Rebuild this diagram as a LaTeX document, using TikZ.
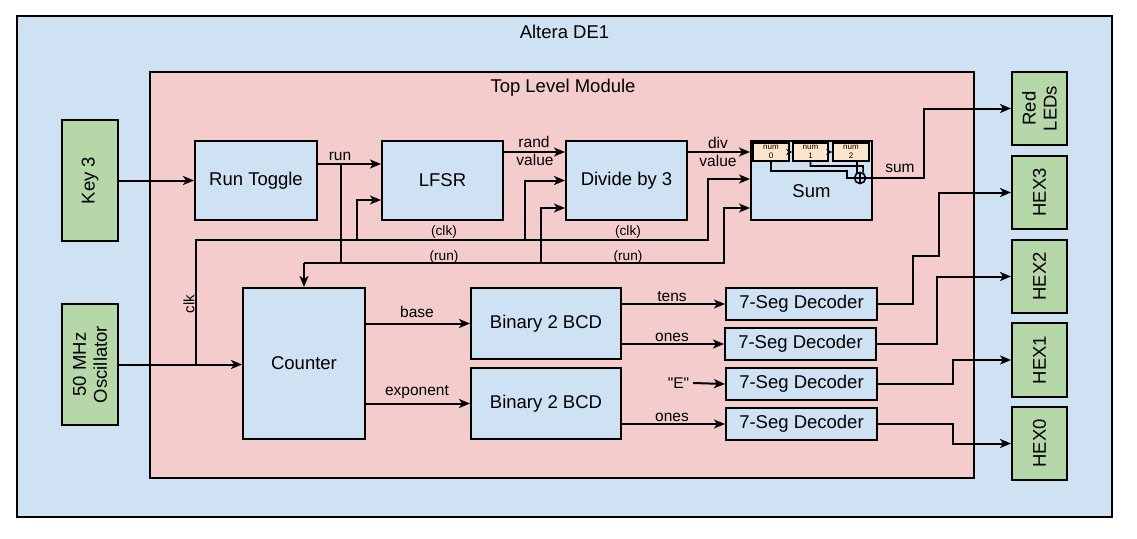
\documentclass[tikz,border=0pt]{standalone}
\usepackage{fontspec}
\setmainfont{Liberation Sans}
\newfontfamily\plainsans{Liberation Sans}
\usetikzlibrary{arrows.meta}
\definecolor{deblue}{HTML}{CFE2F3}
\definecolor{tlpink}{HTML}{F4CCCC}
\definecolor{grn}{HTML}{B6D7A8}
\definecolor{org}{HTML}{FCE5CD}
\begin{document}
\begin{tikzpicture}[x=1pt,y=-1pt,line width=2pt,
  blk/.style={draw,fill=deblue,inner sep=0pt,align=center,font=\fontsize{18.5}{21}\selectfont},
  grnbox/.style={draw,fill=grn,inner sep=0pt},
  rtext/.style={rotate=90,align=center,inner sep=0pt,font=\fontsize{18.5}{21}\selectfont},
  numbox/.style={draw,fill=org,line width=1.6pt,inner sep=0pt,align=center,minimum height=18pt,font=\fontsize{8}{8.5}\selectfont},
  arr/.style={line width=2pt,-{Stealth[length=11pt,width=9pt,inset=3pt]}},
  sarr/.style={-{Stealth[length=6pt,width=6pt,inset=2pt]},line width=1.5pt},
  lbl/.style={inner sep=0pt,font=\fontsize{15.5}{17}\selectfont},
  slbl/.style={inner sep=0pt,font=\fontsize{13.6}{15}\selectfont},
  ttl/.style={inner sep=0pt,font=\fontsize{18.5}{21}\selectfont}]
\useasboundingbox (0,0) rectangle (1137,538);
% containers
\node[draw,fill=deblue,minimum width=1095pt,minimum height=501pt,inner sep=0pt] (de1) at (564.5,266.5) {};
\node[ttl] (de1t) at (564.5,32) {Altera DE1};
\node[draw,fill=tlpink,minimum width=824pt,minimum height=406pt,inner sep=0pt] (top) at (562,275) {};
\node[ttl] (topt) at (563,88) {Top Level Module};
% green boxes
\node[grnbox,minimum width=56pt,minimum height=121pt] (key3) at (90,180.5) {};
\node[rtext] (key3t) at (key3.center) {Key 3};
\node[grnbox,minimum width=56pt,minimum height=121pt] (osc) at (90,364.5) {};
\node[rtext] (osct) at (osc.center) {50 MHz\\Oscillator};
\node[grnbox,minimum width=55pt,minimum height=73pt] (red) at (1039.5,108.5) {};
\node[rtext] (redt) at (red.center) {Red\\LEDs};
\node[grnbox,minimum width=55pt,minimum height=73pt] (hex3) at (1039.5,192.5) {};
\node[rtext] (hex3t) at (hex3.center) {HEX3};
\node[grnbox,minimum width=55pt,minimum height=73pt] (hex2) at (1039.5,276.5) {};
\node[rtext] (hex2t) at (hex2.center) {HEX2};
\node[grnbox,minimum width=55pt,minimum height=74pt] (hex1) at (1039.5,360) {};
\node[rtext] (hex1t) at (hex1.center) {HEX1};
\node[grnbox,minimum width=55pt,minimum height=73pt] (hex0) at (1039.5,443.5) {};
\node[rtext] (hex0t) at (hex0.center) {HEX0};
% blocks
\node[blk,minimum width=122pt,minimum height=79pt] (runtog) at (256,180.5) {Run Toggle};
\node[blk,minimum width=121pt,minimum height=79pt] (lfsr) at (442.5,180.5) {LFSR};
\node[blk,minimum width=121pt,minimum height=79pt] (div) at (626.5,180.5) {Divide by 3};
\node[blk,minimum width=121pt,minimum height=79pt] (sum) at (811.5,180.5) {};
\node[ttl] (sumt) at (811.5,191) {Sum};
\node[blk,minimum width=122pt,minimum height=151pt] (counter) at (304,363.5) {Counter};
\node[blk,minimum width=150pt,minimum height=71pt] (bcd1) at (546,323.5) {Binary 2 BCD};
\node[blk,minimum width=150pt,minimum height=71pt] (bcd2) at (546,403.5) {Binary 2 BCD};
\node[blk,minimum width=151pt,minimum height=32pt] (d1) at (801.5,304) {7-Seg Decoder};
\node[blk,minimum width=151pt,minimum height=32pt] (d2) at (800.5,344) {7-Seg Decoder};
\node[blk,minimum width=151pt,minimum height=32pt] (d3) at (801.5,384) {7-Seg Decoder};
\node[blk,minimum width=151pt,minimum height=32pt] (d4) at (801.5,424) {7-Seg Decoder};
% sum internals
\node[numbox,minimum width=36pt] (n0) at (771,152) {num\\0};
\node[numbox,minimum width=35pt] (n1) at (810.5,152) {num\\1};
\node[numbox,minimum width=36pt] (n2) at (851,152) {num\\2};
\node[draw,circle,fill=deblue,line width=1.6pt,minimum size=11pt,inner sep=0pt] (plus) at (860,178) {};
\draw[line width=1.3pt] (plus.north) -- (plus.south) (plus.west) -- (plus.east);
\draw[sarr] (n0.east) -- (n1.west);
\draw[sarr] (n1.east) -- (n2.west);
\coordinate (k0) at (847,171);
\coordinate (k1) at (863,166);
\draw[line width=1.6pt] (n0.south) |- (k0) |- (plus.west);
\draw[line width=1.6pt] (n1.south) |- (k1) -- (plus.60);
\draw[line width=1.6pt] (plus.120 |- n2.south) -- (plus.120);
% sum output
\coordinate (sumc) at (924,178);
\draw[arr] (plus.east) -- (sumc) |- (red.west);
\node[lbl] (suml) at (900,168) {sum};
% key and oscillator
\draw[arr] (key3.east) -- (runtog.west);
\draw[arr] (osc.east) -- (osc.east -| counter.west);
% run wires
\draw[arr] ([yshift=16.5pt]runtog.east) -- ([yshift=16.5pt]lfsr.west);
\node[lbl] (runl) at (340,156) {run};
\coordinate (runj) at (341,164);
\coordinate (runb) at (341,263);
\coordinate (runL) at (304,263);
\coordinate (runM) at (541,263);
\coordinate (runR) at (724,263);
\draw (runj) -- (runb);
\draw[arr] (runL) -- (runR) |- ([yshift=-27.5pt]sum.west);
\draw[arr] (runM) |- ([yshift=-27.5pt]div.west);
\draw[arr] (runL) -- (counter.north);
% clk wires
\coordinate (clkj) at (196,364.5);
\coordinate (clkR) at (708,240);
\coordinate (clkA) at (357,240);
\coordinate (clkB) at (525,240);
\draw[arr] (clkj) |- (clkR) |- ([yshift=1.5pt]sum.west);
\draw[arr] (clkA) |- ([yshift=-19.5pt]lfsr.west);
\draw[arr] (clkB) |- (div.west);
\node[lbl,rotate=90,font=\fontsize{15}{17}\selectfont] (clkl) at (189,304) {clk};
\node[slbl] (c1) at (444,232) {(clk)};
\node[slbl] (c2) at (628,232) {(clk)};
\node[slbl] (r1) at (444,257) {(run)};
\node[slbl] (r2) at (628,257) {(run)};
% data wires
\draw[arr] ([yshift=28.5pt]lfsr.east) -- ([yshift=28.5pt]div.west);
\node[lbl] (rl1) at (534,142) {rand};
\node[lbl] (rl2) at (535,160) {value};
\draw[arr] ([yshift=28.5pt]div.east) -- ([yshift=28.5pt]sum.west);
\node[lbl] (dl1) at (718,143) {div};
\node[lbl] (dl2) at (718,161) {value};
% counter outputs
\draw[arr] (counter.east |- bcd1.west) -- (bcd1.west);
\node[lbl] (basel) at (417,312) {base};
\draw[arr] (counter.east |- bcd2.west) -- (bcd2.west);
\node[lbl] (expl) at (417,392) {exponent};
% bcd outputs
\draw[arr] (bcd1.east |- d1.west) -- (d1.west);
\node[lbl] (tensl) at (672,297) {tens};
\draw[arr] (bcd1.east |- d2.west) -- (d2.west);
\node[lbl] (ones1) at (672,337) {ones};
\node[lbl,font=\plainsans\fontsize{15.5}{17}\selectfont] (eq) at (678.5,383) {"E"};
\draw[arr] ([xshift=3pt]eq.east) -- (d3.west);
\draw[arr] (bcd2.east |- d4.west) -- (d4.west);
\node[lbl] (ones2) at (672,417) {ones};
% decoder outputs
\coordinate (a1) at (913,304);
\coordinate (a2) at (939,256);
\draw[arr] (d1.east) -- (a1) |- (a2) |- (hex3.west);
\coordinate (b1) at (937,344);
\draw[arr] (d2.east) -- (b1) |- (hex2.west);
\coordinate (e1) at (953,384);
\draw[arr] (d3.east) -- (e1) |- (hex1.west);
\coordinate (f1) at (953,424);
\draw[arr] (d4.east) -- (f1) |- (hex0.west);
\end{tikzpicture}
\end{document}
